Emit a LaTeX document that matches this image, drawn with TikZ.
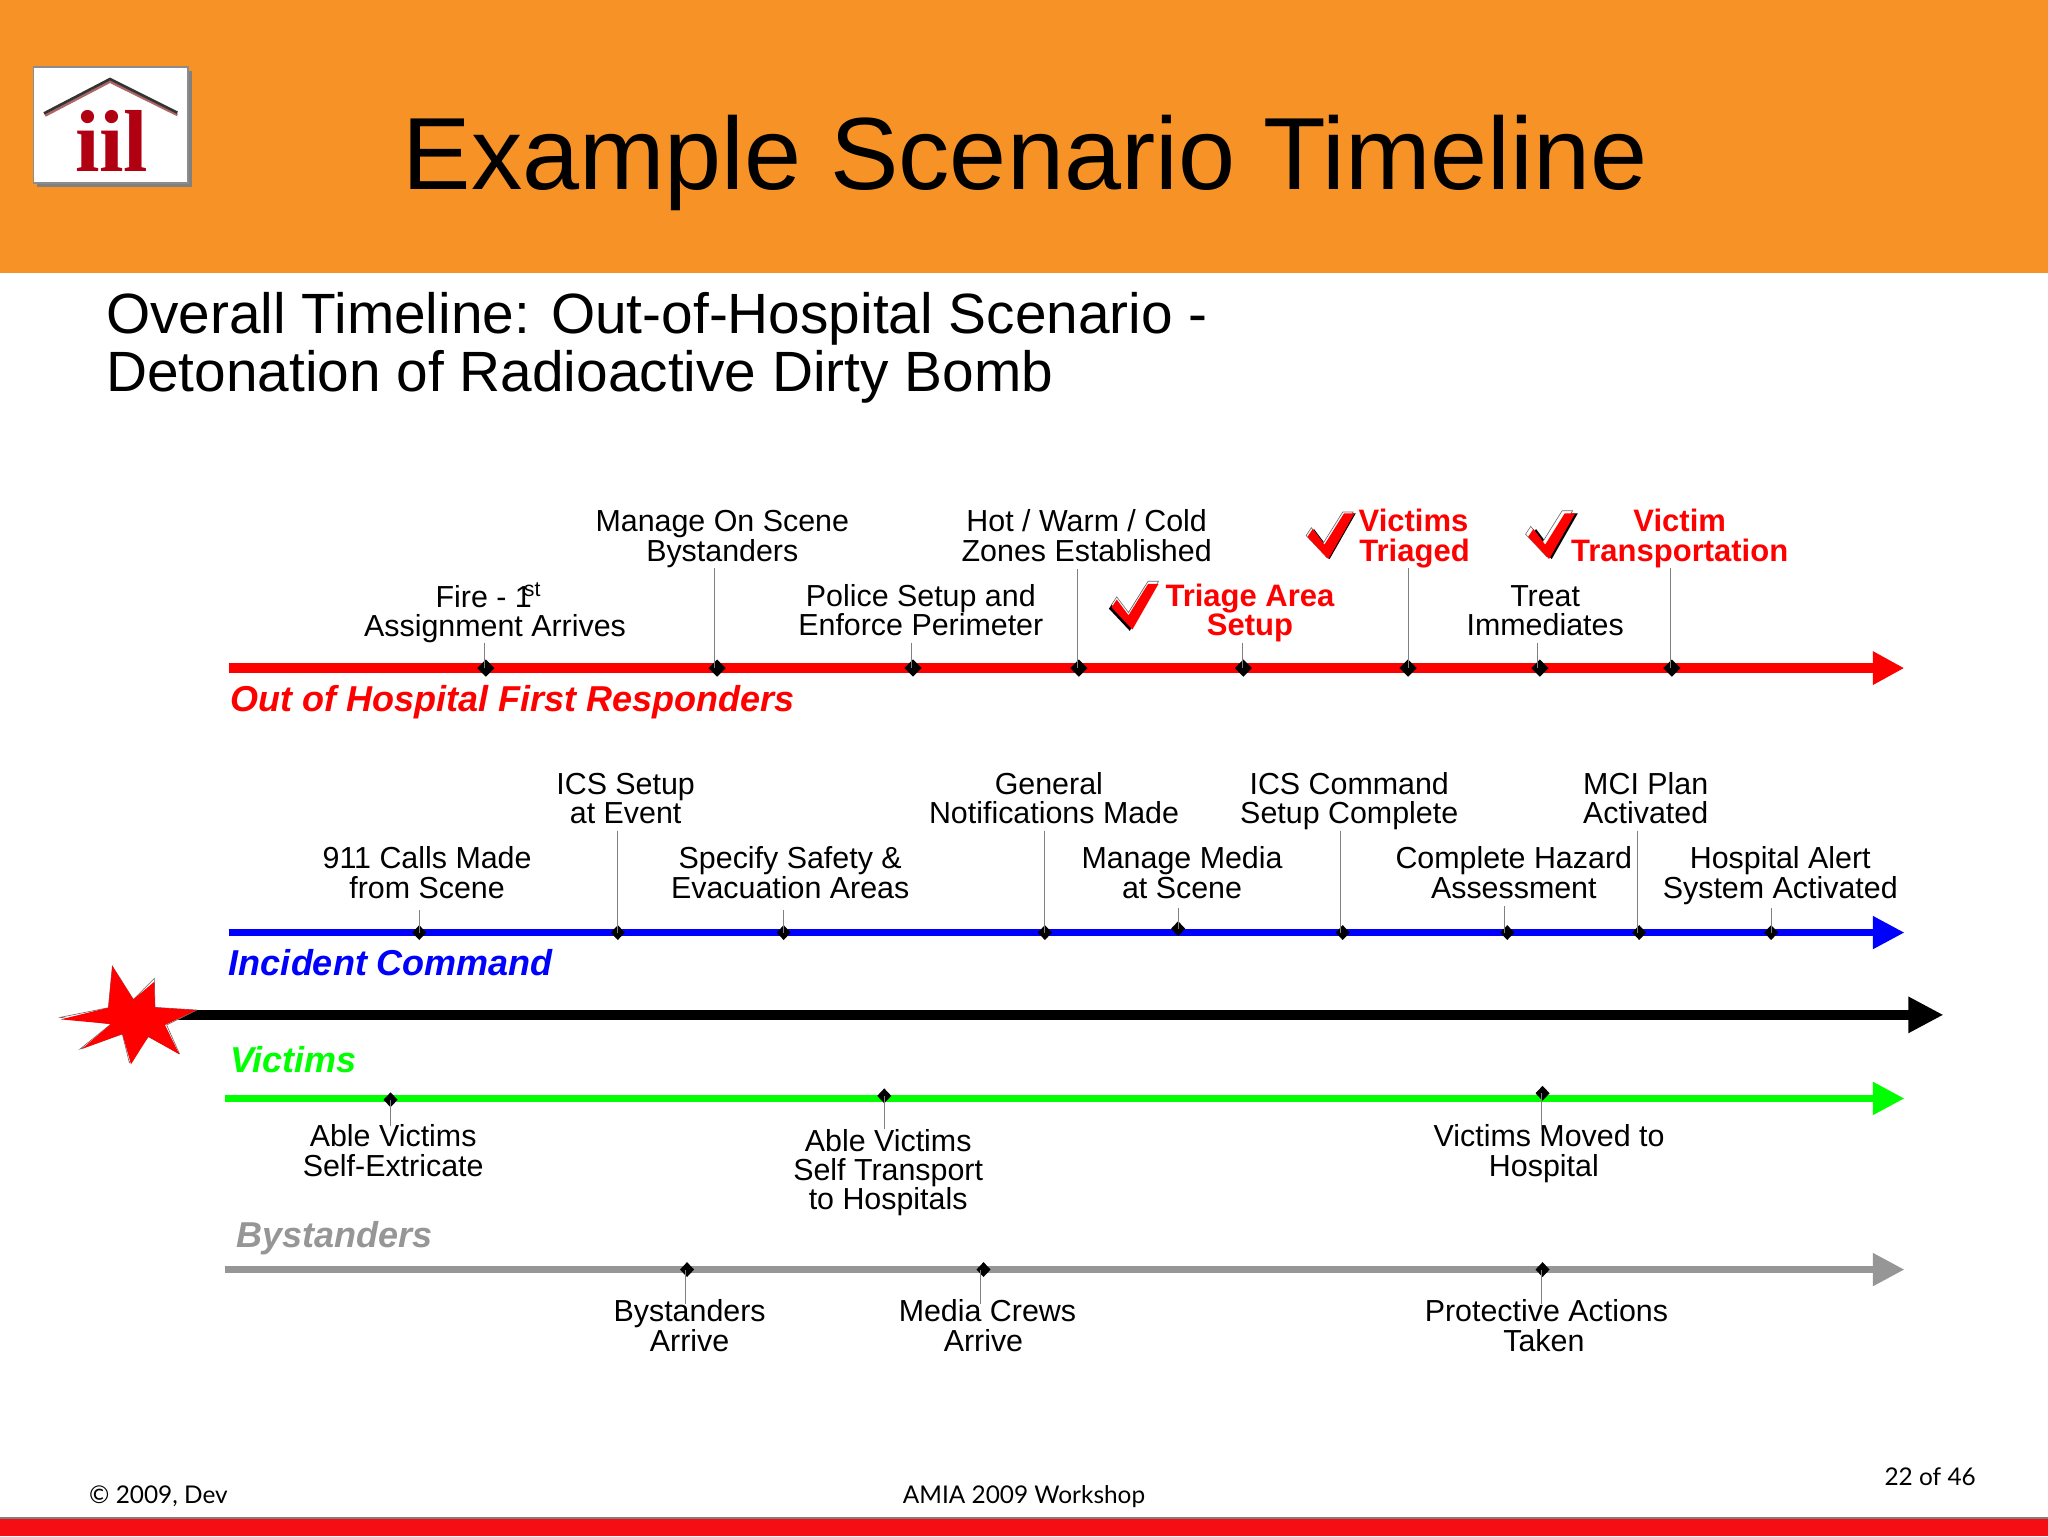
\documentclass[tikz,border=0pt]{standalone}
\usepackage{fontspec}
\setmainfont{Liberation Sans}
\newfontfamily\logofont{Liberation Serif}
\newfontfamily\footfont{Lato}
\usetikzlibrary{arrows.meta,shapes.geometric}
\definecolor{banner}{HTML}{F79226}
\definecolor{footred}{HTML}{F50F14}
\definecolor{bysgray}{HTML}{969696}
\definecolor{logored}{HTML}{B00012}
\tikzset{
  lab/.style={inner sep=0pt,align=center,yshift=-0.85pt,font=\fontsize{15.2}{14.7}\selectfont},
  hot/.style={lab,text=red,font=\fontsize{15.5}{14.7}\selectfont\bfseries},
  head/.style={inner sep=0pt,anchor=base west,font=\fontsize{18}{20}\selectfont\bfseries\itshape},
  stem/.style={draw=black!50,line width=0.45pt},
  mark big/.style={diamond,fill=black,inner sep=0pt,minimum width=8.8pt,minimum height=8.8pt},
  mark small/.style={diamond,fill=black,inner sep=0pt,minimum width=7.2pt,minimum height=7.6pt},
  track/.style={line width=3.3pt,-{Triangle[length=15.7pt,width=15.7pt]}},
  foot/.style={inner sep=0pt,font=\footfont\fontsize{12.2}{14}\selectfont},
}
\newcommand{\lift}[1]{\hspace*{#1pt}}
% event: name, diamond x, y, diamond style, stem x, stem end y, label position, label style, text
\newcommand{\evt}[9]{%
  \node[#4] (d#1) at (#2,#3) {};
  \coordinate (s#1) at (#5,#6);
  \node[#8] (l#1) at #7 {\rule{0pt}{11pt}#9\rule[-3.2pt]{0pt}{3.2pt}};
  \draw[stem] (s#1) -- (s#1 |- d#1.center);
}
% check mark: bottom x,y; shadow offset; white offset
\newcommand{\chk}[6]{%
  \begin{scope}[shift={(#1,#2)}]
    \fill[black] plot coordinates {(#3-16,#4-17) (#3,#4) (#3+20,#4-35) (#3+12,#4-35) (#3-3,#4-11) (#3-12,#4-23)} -- cycle;
    \filldraw[fill=white,draw=black!60,line width=0.3pt] plot coordinates {(#5-16,#6-17) (#5,#6) (#5+20,#6-35) (#5+12,#6-35) (#5-3,#6-11) (#5-12,#6-23)} -- cycle;
    \fill[red] (-16,-17) -- (0,0) -- (20,-35) -- (12,-35) -- (-3,-11) -- (-12,-23) -- cycle;
  \end{scope}
}
\begin{document}
\begin{tikzpicture}[x=0.65306pt,y=-0.65306pt]
\useasboundingbox (0,0) rectangle (1568,1176);
\fill[white] (0,0) rectangle (1568,1176);
% banner
\fill[banner] (0,0) rectangle (1568,209);
\fill[black!50] (28.5,54.5) rectangle (147,143);
\filldraw[fill=white,draw=black!45,line width=0.8pt] (25.5,51.5) rectangle (144,140);
\draw[draw=red!45!black!60,line width=1.3pt] (34.5,88.5) -- (84.2,62.5) -- (135.8,88);
\draw[draw=black!80,line width=1.3pt] (33.7,86.8) -- (84.2,60.5) -- (135.8,86.3);
\node[inner sep=0pt,anchor=base,text=logored,font=\logofont\bfseries\fontsize{44}{44}\selectfont] (logo) at (85.5,131) {iil};
\node[inner sep=0pt,anchor=base west,font=\fontsize{51.3}{55}\selectfont] (title) at (308,145) {Example Scenario Timeline};
\node[inner sep=0pt,anchor=base west,font=\fontsize{28.4}{29}\selectfont] (sub1) at (81,255) {Overall Timeline: Out-of-Hospital Scenario -};
\node[inner sep=0pt,anchor=base west,font=\fontsize{28.4}{29}\selectfont] (sub2) at (81,300) {Detonation of Radioactive Dirty Bomb};
% tracks
\coordinate (ra) at (175,511.5); \coordinate (rb) at (1458,511.5);
\coordinate (ba) at (175,714); \coordinate (bb) at (1458,714);
\coordinate (ka) at (120,777); \coordinate (kb) at (1488,777);
\coordinate (ga) at (172,841); \coordinate (gb) at (1458,841);
\coordinate (ya) at (172,972); \coordinate (yb) at (1458,972);
\draw[track,red,line width=5pt] (ra) -- (rb);
\draw[track,blue] (ba) -- (bb);
\draw[track,black,line width=5pt,-{Triangle[length=17.6pt,width=17pt]}] (ka) -- (kb);
\draw[track,green] (ga) -- (gb);
\draw[track,bysgray] (ya) -- (yb);
% star
\begin{scope}[shift={(30.63,704.4)},scale=0.2552]
\filldraw[fill=white,draw=black!60,line width=0.3pt] (60,292) -- (205,263) -- (217,138) -- (280,238) -- (343,175) -- (345,262) -- (470,270) -- (380,315) -- (418,400) -- (325,350) -- (268,428) -- (247,342) -- (120,387) -- (213,312) -- cycle;
\fill[red] (62,298) -- (205,263) -- (217,138) -- (280,238) -- (343,185) -- (345,262) -- (470,270) -- (375,315) -- (418,403) -- (325,350) -- (273,433) -- (247,342) -- (125,387) -- (213,312) -- cycle;
\end{scope}
% track titles
\node[head,text=red] (hred) at (176,545) {Out of Hospital First Responders};
\node[head,text=blue] (hblue) at (175,747) {Incident Command};
\node[head,text=green] (hgreen) at (176,821) {Victims};
\node[head,text=bysgray] (hgray) at (181,955) {Bystanders};
% red row
\evt{r1}{372}{511.5}{mark big}{371}{492}{(379,468)}{lab}{Fire - 1\kern-4pt\textsuperscript{st}\lift{6.5}\\Assignment Arrives}
\evt{r2}{549}{511.5}{mark big}{547}{435}{(553,411)}{lab}{Manage On Scene\\Bystanders}
\evt{r3}{699}{511.5}{mark big}{698}{492}{(705,468)}{lab}{Police Setup and\\Enforce Perimeter}
\evt{r4}{826}{511.5}{mark big}{825}{436}{(832,411)}{lab}{Hot / Warm / Cold\\Zones Established}
\evt{r5}{952}{511.5}{mark big}{951}{492}{(957,468)}{hot}{Triage Area\\Setup}
\evt{r6}{1078}{511.5}{mark big}{1078}{435}{(1083,411)}{hot}{Victims\lift{1}\\Triaged}
\evt{r7}{1179}{511.5}{mark big}{1177}{492}{(1183,468)}{lab}{Treat\\Immediates}
\evt{r8}{1280}{511.5}{mark big}{1279}{435}{(1286,411)}{hot}{Victim\\Transportation}
\chk{867}{482}{-2}{1}{0}{-2}
\chk{1017}{428}{1}{0}{-1}{-1}
\chk{1186}{428}{2}{0}{-2}{-2}
% blue row
\evt{b1}{321}{714}{mark small}{321}{697}{(327,669)}{lab}{911 Calls Made\\from Scene}
\evt{b2}{473}{714}{mark small}{473}{636}{(479,612)}{lab}{ICS Setup\\at Event}
\evt{b3}{600}{714}{mark small}{600}{697}{(605,669)}{lab}{Specify Safety \&\\Evacuation Areas}
\evt{b4}{800}{714}{mark small}{800}{636}{(807,612)}{lab}{General\lift{5.2}\\Notifications Made}
\evt{b5}{902}{711}{mark small}{902}{695}{(905,669)}{lab}{Manage Media\\at Scene}
\evt{b6}{1028}{714}{mark small}{1026}{636}{(1033,612)}{lab}{ICS Command\\Setup Complete}
\evt{b7}{1154}{714}{mark small}{1152}{694}{(1159,669)}{lab}{Complete Hazard\\Assessment}
\evt{b8}{1255}{714}{mark small}{1254}{636}{(1260,612)}{lab}{MCI Plan\\Activated}
\evt{b9}{1356}{714}{mark small}{1356}{695}{(1363,669)}{lab}{Hospital Alert\\System Activated}
% green row
\evt{g1}{299}{842}{mark small}{299}{862}{(301,882)}{lab}{Able Victims\\Self-Extricate}
\evt{g2}{677}{839}{mark small}{677}{864}{(680,896.5)}{lab}{Able Victims\\Self Transport\\to Hospitals}
\evt{g3}{1181}{837}{mark small}{1180}{865}{(1186,882)}{lab}{Victims Moved to\\Hospital\lift{5.2}}
% gray row
\evt{y1}{526}{972}{mark small}{525}{998}{(528,1016)}{lab}{Bystanders\\Arrive}
\evt{y2}{753}{972}{mark small}{751}{998}{(756,1016)}{lab}{Media Crews\\Arrive\lift{4}}
\evt{y3}{1181}{972}{mark small}{1180}{998}{(1184,1016)}{lab}{Protective Actions\\Taken\lift{2.6}}
% footer
\fill[footred] (0,1162) rectangle (1568,1176);
\fill[black!50] (0,1161.5) rectangle (1568,1163);
\node[foot,anchor=base west] (f1) at (68,1151) {© 2009, Dev};
\node[foot,anchor=base] (f2) at (784,1151) {AMIA 2009 Workshop};
\node[foot,anchor=base east] (f3) at (1513,1137) {22 of 46};
\end{tikzpicture}
\end{document}
